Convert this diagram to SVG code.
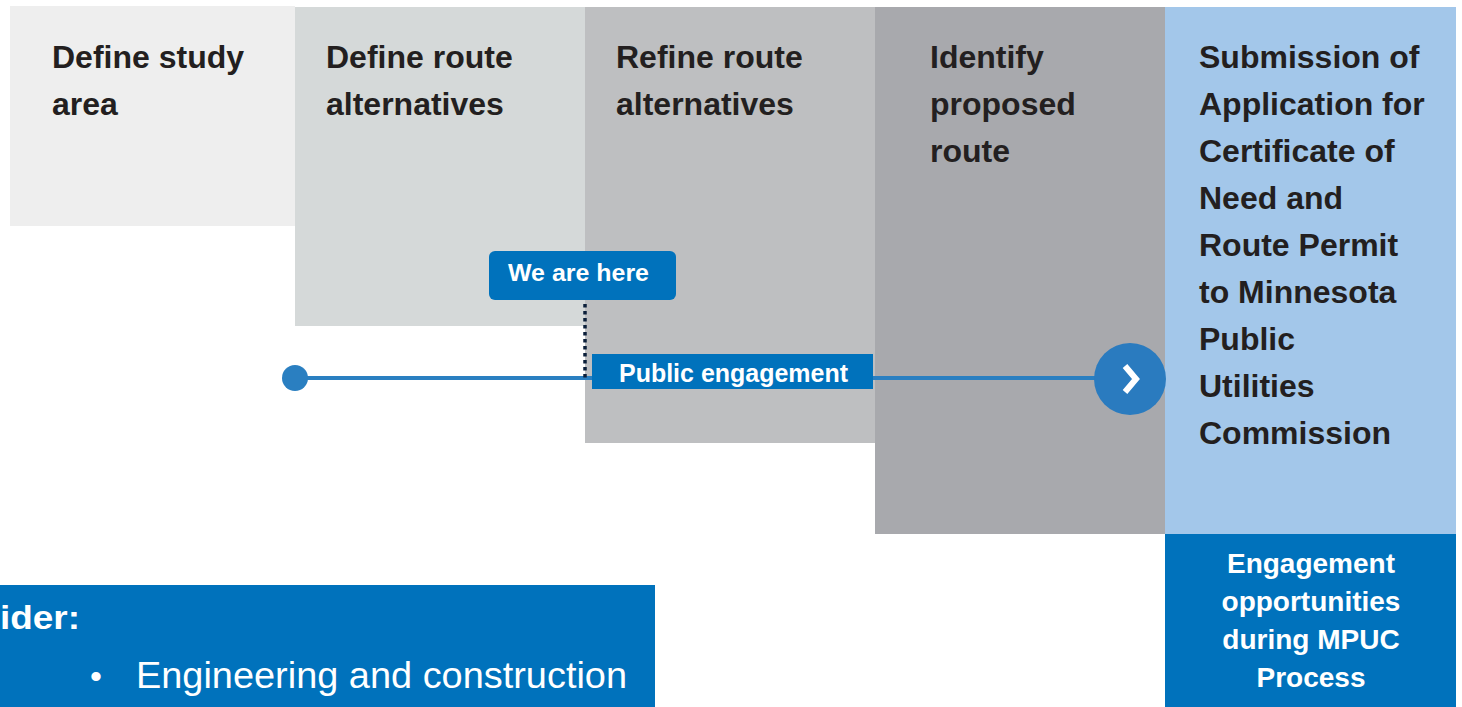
<svg xmlns="http://www.w3.org/2000/svg" width="1462" height="707" viewBox="0 0 1462 707">
<style>
.t{font-family:"Liberation Sans",Arial,sans-serif;font-weight:bold;font-size:32px;fill:#231f20}
.w{font-family:"Liberation Sans",Arial,sans-serif;font-weight:bold;fill:#ffffff}
</style>
<rect width="1462" height="707" fill="#ffffff"/>
<g id="step1"><rect x="10" y="6" width="285" height="220" fill="#eeeeee"/>
<text class="t" x="52" y="68">Define study</text><text class="t" x="52" y="115">area</text></g>
<g id="step2"><rect x="295" y="7" width="290" height="319" fill="#d5d9d9"/>
<text class="t" x="326" y="68">Define route</text><text class="t" x="326" y="115">alternatives</text></g>
<g id="step3"><rect x="585" y="7" width="290" height="436" fill="#bebfc1"/>
<text class="t" x="616" y="68">Refine route</text><text class="t" x="616" y="115">alternatives</text></g>
<g id="step4"><rect x="875" y="7" width="290" height="527" fill="#a8a9ad"/>
<text class="t" x="930" y="68">Identify</text><text class="t" x="930" y="115">proposed</text><text class="t" x="930" y="162">route</text></g>
<g id="step5"><rect x="1165" y="7" width="291" height="527" fill="#a3c7ea"/>
<text class="t" x="1199" y="68">Submission of</text>
<text class="t" x="1199" y="115">Application for</text>
<text class="t" x="1199" y="162">Certificate of</text>
<text class="t" x="1199" y="209">Need and</text>
<text class="t" x="1199" y="256">Route Permit</text>
<text class="t" x="1199" y="303">to Minnesota</text>
<text class="t" x="1199" y="350">Public</text>
<text class="t" x="1199" y="397">Utilities</text>
<text class="t" x="1199" y="444">Commission</text></g>
<g id="mpuc"><rect x="1165" y="534" width="291" height="173" fill="#0072bc"/>
<g class="w" font-size="28" text-anchor="middle">
<text x="1311" y="573">Engagement</text><text x="1311" y="611">opportunities</text><text x="1311" y="649">during MPUC</text><text x="1311" y="687">Process</text></g></g>
<g id="connectors">
<line x1="295" y1="378" x2="1100" y2="378" stroke="#2a7fc1" stroke-width="4"/>
<line x1="585" y1="304" x2="585" y2="378" stroke="#0b1f3a" stroke-width="3.5" stroke-dasharray="3.5 3.5"/>
</g>
<g id="start"><circle cx="295" cy="378" r="13" fill="#2a7fc1"/></g>
<g id="here"><rect x="489" y="251" width="187" height="49" rx="6" fill="#0072bc"/>
<text class="w" font-size="24" x="508" y="281" textLength="141" lengthAdjust="spacingAndGlyphs">We are here</text></g>
<g id="public"><rect x="592" y="354" width="281" height="35" fill="#0072bc"/>
<text class="w" font-size="25" x="619" y="382" textLength="229" lengthAdjust="spacingAndGlyphs">Public engagement</text></g>
<g id="chevron"><circle cx="1130" cy="379" r="36" fill="#2a7bbf"/>
<polyline points="1125,366 1136,379 1125,392" fill="none" stroke="#ffffff" stroke-width="6"/></g>
<g id="consider"><rect x="0" y="585" width="655" height="122" fill="#0072bc"/>
<text class="w" font-size="34" x="0" y="629" textLength="80" lengthAdjust="spacingAndGlyphs">ider:</text>
<text font-family="Liberation Sans,Arial,sans-serif" font-size="34" fill="#ffffff" x="90" y="688">•</text>
<text font-family="Liberation Sans,Arial,sans-serif" font-size="36" fill="#ffffff" x="136" y="688" textLength="491" lengthAdjust="spacingAndGlyphs">Engineering and construction</text></g>
</svg>
